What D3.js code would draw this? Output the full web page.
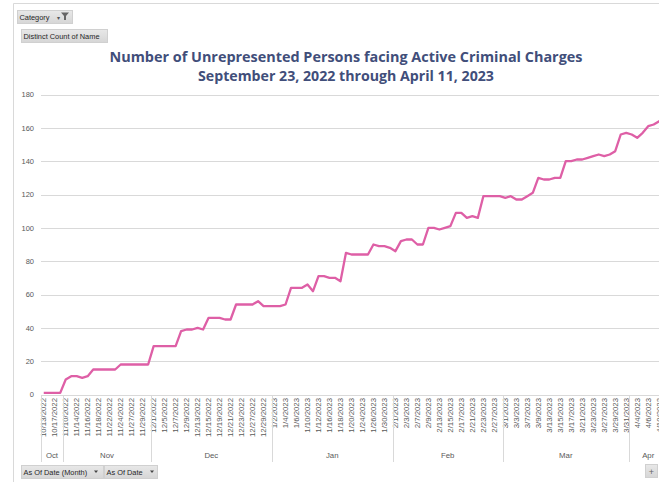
<!DOCTYPE html>
<html><head><meta charset="utf-8">
<script src="https://cdn.jsdelivr.net/npm/d3@7/dist/d3.min.js"></script>
<style>
html,body{margin:0;padding:0;background:#fff;overflow:hidden;}
svg{display:block;}
</style></head>
<body>
<svg id="c" width="659" height="482"></svg>
<script>
const titleLines = ["Number of Unrepresented Persons facing Active Criminal Charges",
                    "September 23, 2022 through April 11, 2023"];
const categories = [
"10/13/2022","10/14/2022","10/17/2022","10/18/2022",
"11/10/2022","11/11/2022","11/14/2022","11/15/2022","11/16/2022","11/17/2022","11/18/2022","11/21/2022","11/22/2022","11/23/2022","11/24/2022","11/25/2022","11/27/2022","11/28/2022","11/29/2022","11/30/2022",
"12/1/2022","12/2/2022","12/5/2022","12/6/2022","12/7/2022","12/8/2022","12/9/2022","12/12/2022","12/13/2022","12/14/2022","12/15/2022","12/16/2022","12/19/2022","12/20/2022","12/21/2022","12/22/2022","12/23/2022","12/26/2022","12/27/2022","12/28/2022","12/29/2022","12/30/2022",
"1/2/2023","1/3/2023","1/4/2023","1/5/2023","1/6/2023","1/9/2023","1/10/2023","1/11/2023","1/12/2023","1/13/2023","1/16/2023","1/17/2023","1/18/2023","1/19/2023","1/20/2023","1/23/2023","1/24/2023","1/25/2023","1/26/2023","1/27/2023","1/30/2023","1/31/2023",
"2/1/2023","2/2/2023","2/3/2023","2/6/2023","2/7/2023","2/8/2023","2/9/2023","2/10/2023","2/13/2023","2/14/2023","2/15/2023","2/16/2023","2/17/2023","2/20/2023","2/21/2023","2/22/2023","2/23/2023","2/24/2023","2/27/2023","2/28/2023",
"3/1/2023","3/2/2023","3/3/2023","3/6/2023","3/7/2023","3/8/2023","3/9/2023","3/10/2023","3/13/2023","3/14/2023","3/15/2023","3/16/2023","3/17/2023","3/20/2023","3/21/2023","3/22/2023","3/23/2023","3/24/2023","3/27/2023","3/28/2023","3/29/2023","3/30/2023","3/31/2023",
"4/3/2023","4/4/2023","4/5/2023","4/6/2023","4/7/2023","4/10/2023","4/11/2023"];
const values = [
1,1,1,1,
9,11,11,10,11,15,15,15,15,15,18,18,18,18,18,18,
29,29,29,29,29,38,39,39,40,39,46,46,46,45,45,54,54,54,54,56,53,53,
53,53,54,64,64,64,66,62,71,71,70,70,68,85,84,84,84,84,90,89,89,88,
86,92,93,93,90,90,100,100,99,100,101,109,109,106,107,106,119,119,119,119,
118,119,117,117,119,121,130,129,129,130,130,140,140,141,141,142,143,144,143,144,146,156,157,
156,154,157,161,162,164,165];
const monthNames = {10:"Oct",11:"Nov",12:"Dec",1:"Jan",2:"Feb",3:"Mar",4:"Apr"};
const yTicks = [0,20,40,60,80,100,120,140,160,180];
const tickLabels = categories.filter((d,i)=>i%2===0);

const svg = d3.select("#c");
const left = 41, band = 5.495;
const x = d3.scaleBand().domain(categories).range([left, left + categories.length*band]).paddingInner(0).paddingOuter(0);
const y = d3.scaleLinear().domain([0,180]).range([394.5, 94.5]);
const cx = d => x(d) + x.bandwidth()/2;
const axisFont = "'Liberation Sans', Arial, sans-serif";
const grey = "#595959";

// chart border
svg.append("line").attr("x1",13.5).attr("x2",680).attr("y1",3.5).attr("y2",3.5).attr("stroke","#d9d9d9");
svg.append("line").attr("x1",13.5).attr("x2",13.5).attr("y1",3.5).attr("y2",482).attr("stroke","#d9d9d9");

// gridlines
svg.append("g").selectAll("line").data(yTicks.filter(t=>t>0)).join("line")
  .attr("x1", left).attr("x2", 680)
  .attr("y1", d=>Math.round(y(d))+0.5).attr("y2", d=>Math.round(y(d))+0.5)
  .attr("stroke","#d9d9d9").attr("stroke-width",1);

// y axis
const yAxis = svg.append("g").attr("transform",`translate(${left-7},0)`)
  .call(d3.axisLeft(y).tickValues(yTicks).tickSize(0).tickPadding(0));
yAxis.select(".domain").remove();
yAxis.selectAll("text").attr("font-family",axisFont).attr("font-size","7.5px").attr("fill",grey);

// x axis baseline
svg.append("line").attr("x1",left).attr("x2",680).attr("y1",395.5).attr("y2",395.5).attr("stroke","#d9d9d9");

// x axis date labels
const xAxis = svg.append("g").attr("transform","translate(0,395)")
  .call(d3.axisBottom(x).tickValues(tickLabels).tickSize(0).tickPadding(0));
xAxis.select(".domain").remove();
xAxis.selectAll("text")
  .attr("font-family",axisFont).attr("font-size","7.8px").attr("fill",grey)
  .attr("text-anchor","end").attr("dy","0.35em")
  .attr("transform","translate(0,3) rotate(-90)")
  .attr("x",0).attr("y",0);

// month groups
const groups = [];
categories.forEach((d,i)=>{
  const m = +d.split("/")[0];
  const name = monthNames[m];
  if(!groups.length || groups[groups.length-1].name!==name) groups.push({name, first:d, last:d});
  else groups[groups.length-1].last = d;
});
const gx0 = g => x(g.first), gx1 = g => x(g.last)+x.bandwidth();
svg.append("g").selectAll("line").data(groups).join("line")
  .attr("x1", d=>Math.round(gx0(d))+0.5).attr("x2", d=>Math.round(gx0(d))+0.5)
  .attr("y1",395).attr("y2",462).attr("stroke","#d9d9d9");
svg.append("g").selectAll("text").data(groups).join("text")
  .attr("x", d=>(gx0(d)+gx1(d))/2).attr("y",458)
  .attr("text-anchor","middle").attr("font-family",axisFont).attr("font-size","7.8px").attr("fill",grey)
  .text(d=>d.name);

// line
const line = d3.line().x((d,i)=>cx(categories[i])).y(d=>y(d));
svg.append("path").datum(values).attr("d",line)
  .attr("fill","none").attr("stroke","#de5fa6").attr("stroke-width",2.3).attr("stroke-linejoin","round");

// title
const title = svg.append("g");
const tw = [473, 296];
titleLines.forEach((t,i)=>{
  const tx = title.append("text").attr("x",346).attr("y", i===0?62:80.5)
    .attr("text-anchor","middle").attr("font-family","'Open Sans', 'Noto Sans', sans-serif")
    .attr("font-weight","700").attr("font-size","14px").attr("fill","#414e7a").text(t);
  const w = tx.node().getComputedTextLength();
  tx.attr("font-size", (14*tw[i]/w).toFixed(2)+"px");
});

// buttons
const defs = svg.append("defs");
const grad = defs.append("linearGradient").attr("id","bg").attr("x1",0).attr("x2",0).attr("y1",0).attr("y2",1);
grad.append("stop").attr("offset","0%").attr("stop-color","#e8e8e8");
grad.append("stop").attr("offset","100%").attr("stop-color","#d6d6d6");
const btnFont = "'Liberation Sans', Arial, sans-serif";
function button(x0,y0,w,h,label){
  const g = svg.append("g");
  g.append("rect").attr("x",x0+0.5).attr("y",y0+0.5).attr("width",w).attr("height",h)
   .attr("fill","url(#bg)").attr("stroke","#d0d0d0");
  g.append("text").attr("x",x0+2.5).attr("y",y0+h/2+0.5).attr("dy","0.35em")
   .attr("font-family",btnFont).attr("font-size","7.4px").attr("fill","#262626").text(label);
  return g;
}
const b1 = button(17,10,55,13,"Category");
b1.append("text").attr("x",57).attr("y",19.5).attr("font-size","6px").attr("fill","#555").attr("font-family","sans-serif").text("▾");
b1.append("path").attr("d","M61,12.5 L69,12.5 L66,16 L66,20 L64,20 L64,16 Z").attr("fill","#666");
button(21,29,86,13,"Distinct Count of Name");
const b3 = button(21,465,82,13,"As Of Date (Month)");
b3.append("path").attr("d","M94,470.5 L98,470.5 L96,473 Z").attr("fill","#444");
const b4 = button(104,465,53,13,"As Of Date");
b4.append("path").attr("d","M150,470.5 L154,470.5 L152,473 Z").attr("fill","#444");
const b5 = svg.append("g");
b5.append("rect").attr("x",645.5).attr("y",464.5).attr("width",12).attr("height",13).attr("fill","url(#bg)").attr("stroke","#d0d0d0");
b5.append("text").attr("x",651.5).attr("y",471.5).attr("dy","0.35em").attr("text-anchor","middle")
  .attr("font-family","sans-serif").attr("font-size","9px").attr("fill","#666").text("+");
</script>
</body></html>
